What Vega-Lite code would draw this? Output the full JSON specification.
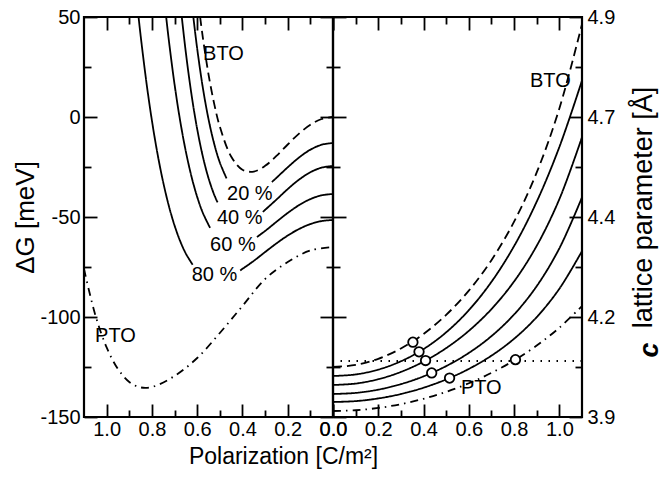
{
  "$schema": "https://vega.github.io/schema/vega-lite/v6.json",
  "autosize": {"type": "pad"},
  "padding": {"left": 11, "top": 5, "right": 0, "bottom": 0},
  "spacing": 0,
  "bounds": "flush",
  "background": "#ffffff",
  "config": {
    "view": {"stroke": "#000000", "strokeWidth": 2.2},
    "axis": {
      "domain": false, "grid": false,
      "labelFont": "Liberation Sans", "labelFontSize": 20, "labelColor": "#000000",
      "titleFont": "Liberation Sans", "titleFontSize": 26, "titleFontWeight": "normal", "titleColor": "#000000",
      "tickColor": "#000000", "tickWidth": 1.8,
      "labelFlush": false, "labelOverlap": false
    },
    "text": {"font": "Liberation Sans", "fontSize": 20, "color": "#000000"}
  },
  "datasets": {
    "dg": [
      {"P": 0, "G": 0, "curve": "BTO", "seg": "BTO"},
      {"P": 0.05, "G": -0.99, "curve": "BTO", "seg": "BTO"},
      {"P": 0.1, "G": -3.86, "curve": "BTO", "seg": "BTO"},
      {"P": 0.15, "G": -8.28, "curve": "BTO", "seg": "BTO"},
      {"P": 0.2, "G": -13.75, "curve": "BTO", "seg": "BTO"},
      {"P": 0.25, "G": -19.47, "curve": "BTO", "seg": "BTO"},
      {"P": 0.3, "G": -24.42, "curve": "BTO", "seg": "BTO"},
      {"P": 0.35, "G": -27.29, "curve": "BTO", "seg": "BTO"},
      {"P": 0.4, "G": -26.39, "curve": "BTO", "seg": "BTO"},
      {"P": 0.45, "G": -19.72, "curve": "BTO", "seg": "BTO"},
      {"P": 0.5, "G": -4.78, "curve": "BTO", "seg": "BTO"},
      {"P": 0.525, "G": 6.69, "curve": "BTO", "seg": "BTO"},
      {"P": 0.55, "G": 21.36, "curve": "BTO", "seg": "BTO"},
      {"P": 0.575, "G": 39.72, "curve": "BTO", "seg": "BTO"},
      {"P": 0.587, "G": 50, "curve": "BTO", "seg": "BTO"},

      {"P": 0, "G": -13, "curve": "20%", "seg": "20a"},
      {"P": 0.05, "G": -13.86, "curve": "20%", "seg": "20a"},
      {"P": 0.1, "G": -16.35, "curve": "20%", "seg": "20a"},
      {"P": 0.15, "G": -20.25, "curve": "20%", "seg": "20a"},
      {"P": 0.2, "G": -25.15, "curve": "20%", "seg": "20a"},
      {"P": 0.25, "G": -30.45, "curve": "20%", "seg": "20a"},
      {"P": 0.27, "G": -32.5, "curve": "20%", "seg": "20a"},
      {"P": 0.47, "G": -30.74, "curve": "20%", "seg": "20b"},
      {"P": 0.5, "G": -22.74, "curve": "20%", "seg": "20b"},
      {"P": 0.525, "G": -13.34, "curve": "20%", "seg": "20b"},
      {"P": 0.55, "G": -1.04, "curve": "20%", "seg": "20b"},
      {"P": 0.575, "G": 14.64, "curve": "20%", "seg": "20b"},
      {"P": 0.6, "G": 34.2, "curve": "20%", "seg": "20b"},
      {"P": 0.617, "G": 50, "curve": "20%", "seg": "20b"},

      {"P": 0, "G": -24.5, "curve": "40%", "seg": "40a"},
      {"P": 0.05, "G": -25.3, "curve": "40%", "seg": "40a"},
      {"P": 0.1, "G": -27.63, "curve": "40%", "seg": "40a"},
      {"P": 0.15, "G": -31.31, "curve": "40%", "seg": "40a"},
      {"P": 0.2, "G": -36.03, "curve": "40%", "seg": "40a"},
      {"P": 0.25, "G": -41.31, "curve": "40%", "seg": "40a"},
      {"P": 0.31, "G": -47.46, "curve": "40%", "seg": "40a"},
      {"P": 0.51, "G": -42.66, "curve": "40%", "seg": "40b"},
      {"P": 0.525, "G": -38.81, "curve": "40%", "seg": "40b"},
      {"P": 0.55, "G": -30.56, "curve": "40%", "seg": "40b"},
      {"P": 0.575, "G": -19.77, "curve": "40%", "seg": "40b"},
      {"P": 0.6, "G": -6.02, "curve": "40%", "seg": "40b"},
      {"P": 0.625, "G": 11.14, "curve": "40%", "seg": "40b"},
      {"P": 0.65, "G": 32.17, "curve": "40%", "seg": "40b"},
      {"P": 0.668, "G": 50, "curve": "40%", "seg": "40b"},

      {"P": 0, "G": -38.5, "curve": "60%", "seg": "60a"},
      {"P": 0.05, "G": -39.15, "curve": "60%", "seg": "60a"},
      {"P": 0.1, "G": -41.05, "curve": "60%", "seg": "60a"},
      {"P": 0.15, "G": -44.07, "curve": "60%", "seg": "60a"},
      {"P": 0.2, "G": -47.98, "curve": "60%", "seg": "60a"},
      {"P": 0.25, "G": -52.44, "curve": "60%", "seg": "60a"},
      {"P": 0.3, "G": -56.99, "curve": "60%", "seg": "60a"},
      {"P": 0.336, "G": -60.0, "curve": "60%", "seg": "60a"},
      {"P": 0.543, "G": -55.45, "curve": "60%", "seg": "60b"},
      {"P": 0.575, "G": -47.93, "curve": "60%", "seg": "60b"},
      {"P": 0.6, "G": -39.95, "curve": "60%", "seg": "60b"},
      {"P": 0.625, "G": -29.84, "curve": "60%", "seg": "60b"},
      {"P": 0.65, "G": -17.3, "curve": "60%", "seg": "60b"},
      {"P": 0.675, "G": -2.02, "curve": "60%", "seg": "60b"},
      {"P": 0.7, "G": 16.34, "curve": "60%", "seg": "60b"},
      {"P": 0.725, "G": 38.16, "curve": "60%", "seg": "60b"},
      {"P": 0.737, "G": 50, "curve": "60%", "seg": "60b"},

      {"P": 0, "G": -51.5, "curve": "80%", "seg": "80a"},
      {"P": 0.05, "G": -52.02, "curve": "80%", "seg": "80a"},
      {"P": 0.1, "G": -53.54, "curve": "80%", "seg": "80a"},
      {"P": 0.15, "G": -56.0, "curve": "80%", "seg": "80a"},
      {"P": 0.2, "G": -59.28, "curve": "80%", "seg": "80a"},
      {"P": 0.25, "G": -63.21, "curve": "80%", "seg": "80a"},
      {"P": 0.3, "G": -67.53, "curve": "80%", "seg": "80a"},
      {"P": 0.35, "G": -71.93, "curve": "80%", "seg": "80a"},
      {"P": 0.41, "G": -76.73, "curve": "80%", "seg": "80a"},
      {"P": 0.62, "G": -73.85, "curve": "80%", "seg": "80b"},
      {"P": 0.65, "G": -68.3, "curve": "80%", "seg": "80b"},
      {"P": 0.675, "G": -62.09, "curve": "80%", "seg": "80b"},
      {"P": 0.7, "G": -54.24, "curve": "80%", "seg": "80b"},
      {"P": 0.725, "G": -44.52, "curve": "80%", "seg": "80b"},
      {"P": 0.75, "G": -32.71, "curve": "80%", "seg": "80b"},
      {"P": 0.775, "G": -18.55, "curve": "80%", "seg": "80b"},
      {"P": 0.8, "G": -1.76, "curve": "80%", "seg": "80b"},
      {"P": 0.825, "G": 17.93, "curve": "80%", "seg": "80b"},
      {"P": 0.85, "G": 40.86, "curve": "80%", "seg": "80b"},
      {"P": 0.859, "G": 50, "curve": "80%", "seg": "80b"},

      {"P": 0, "G": -65, "curve": "PTO", "seg": "PTO"},
      {"P": 0.1, "G": -66.75, "curve": "PTO", "seg": "PTO"},
      {"P": 0.2, "G": -72.5, "curve": "PTO", "seg": "PTO"},
      {"P": 0.3, "G": -81, "curve": "PTO", "seg": "PTO"},
      {"P": 0.4, "G": -94.5, "curve": "PTO", "seg": "PTO"},
      {"P": 0.5, "G": -108, "curve": "PTO", "seg": "PTO"},
      {"P": 0.6, "G": -120.5, "curve": "PTO", "seg": "PTO"},
      {"P": 0.7, "G": -129.5, "curve": "PTO", "seg": "PTO"},
      {"P": 0.8, "G": -135, "curve": "PTO", "seg": "PTO"},
      {"P": 0.85, "G": -135.2, "curve": "PTO", "seg": "PTO"},
      {"P": 0.9, "G": -132.5, "curve": "PTO", "seg": "PTO"},
      {"P": 0.95, "G": -126, "curve": "PTO", "seg": "PTO"},
      {"P": 1.0, "G": -115.2, "curve": "PTO", "seg": "PTO"},
      {"P": 1.05, "G": -99, "curve": "PTO", "seg": "PTO"},
      {"P": 1.1, "G": -76, "curve": "PTO", "seg": "PTO"}
    ],
    "dglab": [
      {"P": 0.574, "G": 31.5, "t": "BTO"},
      {"P": 0.468, "G": -38.3, "t": "20 %"},
      {"P": 0.513, "G": -50.5, "t": "40 %"},
      {"P": 0.543, "G": -63.75, "t": "60 %"},
      {"P": 0.624, "G": -79.2, "t": "80 %"},
      {"P": 1.051, "G": -109.5, "t": "PTO"}
    ],
    "cc": [
      {"P": 0, "c": 4.025, "curve": "BTO"},
      {"P": 0.1, "c": 4.0301, "curve": "BTO"},
      {"P": 0.2, "c": 4.0455, "curve": "BTO"},
      {"P": 0.3, "c": 4.0713, "curve": "BTO"},
      {"P": 0.4, "c": 4.1076, "curve": "BTO"},
      {"P": 0.5, "c": 4.1554, "curve": "BTO"},
      {"P": 0.6, "c": 4.2159, "curve": "BTO"},
      {"P": 0.7, "c": 4.2921, "curve": "BTO"},
      {"P": 0.8, "c": 4.3883, "curve": "BTO"},
      {"P": 0.9, "c": 4.5114, "curve": "BTO"},
      {"P": 1.0, "c": 4.6713, "curve": "BTO"},
      {"P": 1.1, "c": 4.882, "curve": "BTO"},

      {"P": 0, "c": 4.0025, "curve": "20%"},
      {"P": 0.1, "c": 4.0064, "curve": "20%"},
      {"P": 0.2, "c": 4.0185, "curve": "20%"},
      {"P": 0.3, "c": 4.0393, "curve": "20%"},
      {"P": 0.4, "c": 4.0698, "curve": "20%"},
      {"P": 0.5, "c": 4.1118, "curve": "20%"},
      {"P": 0.6, "c": 4.167, "curve": "20%"},
      {"P": 0.7, "c": 4.2379, "curve": "20%"},
      {"P": 0.8, "c": 4.3273, "curve": "20%"},
      {"P": 0.9, "c": 4.4384, "curve": "20%"},
      {"P": 1.0, "c": 4.575, "curve": "20%"},
      {"P": 1.1, "c": 4.7411, "curve": "20%"},

      {"P": 0, "c": 3.98, "curve": "40%"},
      {"P": 0.1, "c": 3.9836, "curve": "40%"},
      {"P": 0.2, "c": 3.9945, "curve": "40%"},
      {"P": 0.3, "c": 4.0127, "curve": "40%"},
      {"P": 0.4, "c": 4.0385, "curve": "40%"},
      {"P": 0.5, "c": 4.0723, "curve": "40%"},
      {"P": 0.6, "c": 4.1154, "curve": "40%"},
      {"P": 0.7, "c": 4.1698, "curve": "40%"},
      {"P": 0.8, "c": 4.2389, "curve": "40%"},
      {"P": 0.9, "c": 4.328, "curve": "40%"},
      {"P": 1.0, "c": 4.4447, "curve": "40%"},
      {"P": 1.1, "c": 4.5995, "curve": "40%"},

      {"P": 0, "c": 3.9575, "curve": "60%"},
      {"P": 0.1, "c": 3.9602, "curve": "60%"},
      {"P": 0.2, "c": 3.9684, "curve": "60%"},
      {"P": 0.3, "c": 3.9822, "curve": "60%"},
      {"P": 0.4, "c": 4.0016, "curve": "60%"},
      {"P": 0.5, "c": 4.0273, "curve": "60%"},
      {"P": 0.6, "c": 4.0602, "curve": "60%"},
      {"P": 0.7, "c": 4.1022, "curve": "60%"},
      {"P": 0.8, "c": 4.1563, "curve": "60%"},
      {"P": 0.9, "c": 4.2272, "curve": "60%"},
      {"P": 1.0, "c": 4.3217, "curve": "60%"},
      {"P": 1.1, "c": 4.4491, "curve": "60%"},

      {"P": 0, "c": 3.9375, "curve": "80%"},
      {"P": 0.1, "c": 3.9397, "curve": "80%"},
      {"P": 0.2, "c": 3.9464, "curve": "80%"},
      {"P": 0.3, "c": 3.9575, "curve": "80%"},
      {"P": 0.4, "c": 3.9732, "curve": "80%"},
      {"P": 0.5, "c": 3.9939, "curve": "80%"},
      {"P": 0.6, "c": 4.0202, "curve": "80%"},
      {"P": 0.7, "c": 4.0534, "curve": "80%"},
      {"P": 0.8, "c": 4.0956, "curve": "80%"},
      {"P": 0.9, "c": 4.1498, "curve": "80%"},
      {"P": 1.0, "c": 4.2207, "curve": "80%"},
      {"P": 1.1, "c": 4.3147, "curve": "80%"},

      {"P": 0, "c": 3.915, "curve": "PTO"},
      {"P": 0.1, "c": 3.9169, "curve": "PTO"},
      {"P": 0.2, "c": 3.9226, "curve": "PTO"},
      {"P": 0.3, "c": 3.9321, "curve": "PTO"},
      {"P": 0.4, "c": 3.9455, "curve": "PTO"},
      {"P": 0.5, "c": 3.9628, "curve": "PTO"},
      {"P": 0.6, "c": 3.9843, "curve": "PTO"},
      {"P": 0.7, "c": 4.0103, "curve": "PTO"},
      {"P": 0.8, "c": 4.0414, "curve": "PTO"},
      {"P": 0.9, "c": 4.0786, "curve": "PTO"},
      {"P": 1.0, "c": 4.1233, "curve": "PTO"},
      {"P": 1.1, "c": 4.1773, "curve": "PTO"}
    ],
    "circ": [
      {"P": 0.353, "c": 4.087},
      {"P": 0.38, "c": 4.0629},
      {"P": 0.409, "c": 4.0412},
      {"P": 0.436, "c": 4.0101},
      {"P": 0.515, "c": 3.9974},
      {"P": 0.806, "c": 4.0434}
    ],
    "cclab": [
      {"P": 0.87, "c": 4.74, "t": "BTO"},
      {"P": 0.565, "c": 3.9725, "t": "PTO"}
    ]
  },
  "hconcat": [
    {
      "width": 249,
      "height": 400,
      "layer": [
        {
          "data": {"name": "dg"},
          "mark": {"type": "line", "strokeWidth": 1.8, "color": "#000000", "interpolate": "catmull-rom", "clip": true},
          "encoding": {
            "x": {
              "field": "P", "type": "quantitative",
              "scale": {"domain": [0, 1.1], "reverse": true, "nice": false, "zero": false},
              "axis": {"orient": "bottom", "values": [0, 0.2, 0.4, 0.6, 0.8, 1.0], "format": ".1f", "tickSize": -13, "labelPadding": 15, "title": "Polarization [C/m²]", "titleFontSize": 23, "titleX": 199, "titlePadding": 6}
            },
            "y": {
              "field": "G", "type": "quantitative",
              "scale": {"domain": [-150, 50], "nice": false, "zero": false},
              "axis": {"orient": "left", "values": [-150, -100, -50, 0, 50], "labelExpr": "'' + datum.value", "tickSize": -13, "labelPadding": 17, "title": "ΔG [meV]", "titlePadding": 1}
            },
            "detail": {"field": "seg"},
            "strokeDash": {
              "field": "curve", "type": "nominal",
              "scale": {"domain": ["BTO", "20%", "40%", "60%", "80%", "PTO"], "range": [[9, 5], [1, 0], [1, 0], [1, 0], [1, 0], [8, 5, 1.5, 5]]},
              "legend": null
            }
          }
        },
        {
          "data": {"name": "dglab"},
          "mark": {"type": "text", "align": "left", "baseline": "middle"},
          "encoding": {
            "x": {"field": "P", "type": "quantitative", "axis": null},
            "y": {"field": "G", "type": "quantitative", "axis": null},
            "text": {"field": "t"}
          }
        },
        {
          "data": {"values": [{}]},
          "mark": {"type": "point", "opacity": 0},
          "encoding": {
            "x": {"datum": 0.5, "type": "quantitative", "axis": {"orient": "top", "values": [0, 0.2, 0.4, 0.6, 0.8, 1.0], "tickSize": -13, "labels": false, "title": null}},
            "y": {"datum": 0, "type": "quantitative", "axis": {"orient": "right", "values": [-150, -100, -50, 0, 50], "tickSize": -13, "labels": false, "title": null}}
          }
        },
        {
          "data": {"values": [{}]},
          "mark": {"type": "point", "opacity": 0},
          "encoding": {
            "x": {"datum": 0.5, "type": "quantitative", "axis": {"orient": "bottom", "values": [0.1, 0.3, 0.5, 0.7, 0.9], "tickSize": -7, "labels": false, "title": null}},
            "y": {"datum": 0, "type": "quantitative", "axis": {"orient": "left", "values": [-125, -75, -25, 25], "tickSize": -7, "labels": false, "title": null}}
          }
        },
        {
          "data": {"values": [{}]},
          "mark": {"type": "point", "opacity": 0},
          "encoding": {
            "x": {"datum": 0.5, "type": "quantitative", "axis": {"orient": "top", "values": [0.1, 0.3, 0.5, 0.7, 0.9], "tickSize": -7, "labels": false, "title": null}},
            "y": {"datum": 0, "type": "quantitative", "axis": {"orient": "right", "values": [-125, -75, -25, 25], "tickSize": -7, "labels": false, "title": null}}
          }
        }
      ],
      "resolve": {"axis": {"x": "independent", "y": "independent"}}
    },
    {
      "width": 249,
      "height": 400,
      "layer": [
        {
          "data": {"name": "cc"},
          "mark": {"type": "line", "strokeWidth": 1.8, "color": "#000000", "interpolate": "catmull-rom", "clip": true},
          "encoding": {
            "x": {
              "field": "P", "type": "quantitative",
              "scale": {"domain": [0, 1.1], "nice": false, "zero": false},
              "axis": {"orient": "bottom", "values": [0, 0.2, 0.4, 0.6, 0.8, 1.0], "format": ".1f", "tickSize": -13, "labelPadding": 15, "title": null}
            },
            "y": {
              "field": "c", "type": "quantitative",
              "scale": {"domain": [3.9, 4.9], "nice": false, "zero": false},
              "axis": {"orient": "right", "values": [3.9, 4.15, 4.4, 4.65, 4.9], "format": ".1f", "tickSize": -13, "labelPadding": 18, "title": "lattice parameter [Å]", "titleFontSize": 27, "titleAngle": 270, "titleBaseline": "top", "titleY": 190, "titlePadding": 16}
            },
            "detail": {"field": "curve"},
            "strokeDash": {
              "field": "curve", "type": "nominal",
              "scale": {"domain": ["BTO", "20%", "40%", "60%", "80%", "PTO"], "range": [[9, 5], [1, 0], [1, 0], [1, 0], [1, 0], [8, 5, 1.5, 5]]},
              "legend": null
            }
          }
        },
        {
          "data": {"values": [{}]},
          "mark": {"type": "rule", "strokeDash": [1.5, 6.5], "strokeWidth": 1.8, "color": "#000000"},
          "encoding": {"y": {"datum": 4.04, "type": "quantitative", "axis": null}}
        },
        {
          "data": {"name": "circ"},
          "mark": {"type": "point", "shape": "circle", "filled": true, "fill": "#ffffff", "stroke": "#000000", "strokeWidth": 1.8, "size": 90, "opacity": 1},
          "encoding": {
            "x": {"field": "P", "type": "quantitative", "axis": null},
            "y": {"field": "c", "type": "quantitative", "axis": null}
          }
        },
        {
          "data": {"name": "cclab"},
          "mark": {"type": "text", "align": "left", "baseline": "middle"},
          "encoding": {
            "x": {"field": "P", "type": "quantitative", "axis": null},
            "y": {"field": "c", "type": "quantitative", "axis": null},
            "text": {"field": "t"}
          }
        },
        {
          "data": {"values": [{}]},
          "mark": {"type": "text", "text": "c", "angle": 270, "fontStyle": "italic", "fontWeight": "bold", "fontSize": 27, "align": "center", "baseline": "alphabetic", "dy": 76},
          "encoding": {
            "x": {"datum": 1.1, "type": "quantitative", "axis": null},
            "y": {"datum": 4.0675, "type": "quantitative", "axis": null}
          }
        },
        {
          "data": {"values": [{}]},
          "mark": {"type": "point", "opacity": 0},
          "encoding": {
            "x": {"datum": 0.5, "type": "quantitative", "axis": {"orient": "top", "values": [0, 0.2, 0.4, 0.6, 0.8, 1.0], "tickSize": -13, "labels": false, "title": null}},
            "y": {"datum": 4.4, "type": "quantitative", "axis": {"orient": "left", "values": [3.9, 4.15, 4.4, 4.65, 4.9], "tickSize": -13, "labels": false, "title": null}}
          }
        },
        {
          "data": {"values": [{}]},
          "mark": {"type": "point", "opacity": 0},
          "encoding": {
            "x": {"datum": 0.5, "type": "quantitative", "axis": {"orient": "bottom", "values": [0.1, 0.3, 0.5, 0.7, 0.9], "tickSize": -7, "labels": false, "title": null}},
            "y": {"datum": 4.4, "type": "quantitative", "axis": {"orient": "right", "values": [4.025, 4.275, 4.525, 4.775], "tickSize": -7, "labels": false, "title": null}}
          }
        },
        {
          "data": {"values": [{}]},
          "mark": {"type": "point", "opacity": 0},
          "encoding": {
            "x": {"datum": 0.5, "type": "quantitative", "axis": {"orient": "top", "values": [0.1, 0.3, 0.5, 0.7, 0.9], "tickSize": -7, "labels": false, "title": null}},
            "y": {"datum": 4.4, "type": "quantitative", "axis": {"orient": "left", "values": [4.025, 4.275, 4.525, 4.775], "tickSize": -7, "labels": false, "title": null}}
          }
        }
      ],
      "resolve": {"axis": {"x": "independent", "y": "independent"}}
    }
  ]
}
